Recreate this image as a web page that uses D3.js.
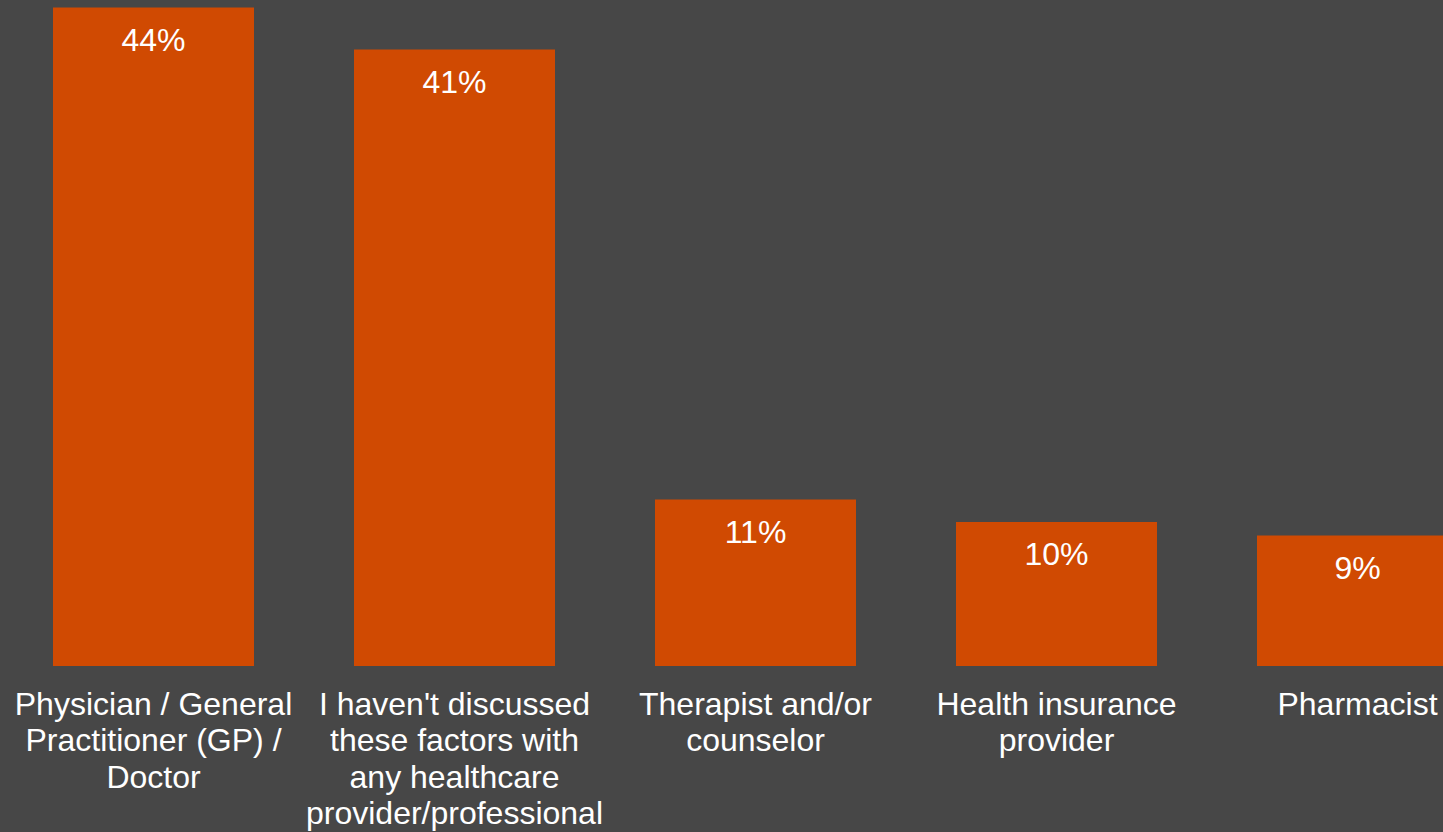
<!DOCTYPE html>
<html>
<head>
<meta charset="utf-8">
<script src="https://cdn.jsdelivr.net/npm/d3@7"></script>
<style>
  html, body { margin: 0; padding: 0; background: #474747; overflow: hidden; }
  svg { display: block; }
</style>
</head>
<body>
<div id="chart"></div>
<script>
// datos
const categories = [
  "Physician / General Practitioner (GP) / Doctor",
  "I haven't discussed these factors with any healthcare provider/professional",
  "Therapist and/or counselor",
  "Health insurance provider",
  "Pharmacist"
];
const categoryLines = [
  ["Physician / General", "Practitioner (GP) /", "Doctor"],
  ["I haven't discussed", "these factors with", "any healthcare", "provider/professional"],
  ["Therapist and/or", "counselor"],
  ["Health insurance", "provider"],
  ["Pharmacist"]
];
const values = [43.9, 41.1, 11.1, 9.6, 8.7];
const valueLabels = ["44%", "41%", "11%", "10%", "9%"];

const WIDTH = 1443;
const HEIGHT = 832;
const BASE_Y = 666;

const svg = d3.select("#chart").append("svg")
  .attr("width", WIDTH)
  .attr("height", HEIGHT);

svg.append("rect")
  .attr("width", WIDTH)
  .attr("height", HEIGHT)
  .attr("fill", "#474747");

const x = d3.scaleBand()
  .domain(categories)
  .range([3, 3 + 5 * 301])
  .paddingInner(100 / 301)
  .paddingOuter(50 / 301);

const y = d3.scaleLinear()
  .domain([0, 1])
  .range([BASE_Y, BASE_Y - 15]);

const bars = svg.selectAll(".bar")
  .data(categories)
  .enter().append("g")
  .attr("class", "bar");

bars.append("rect")
  .attr("x", d => x(d))
  .attr("y", (d, i) => y(values[i]))
  .attr("width", x.bandwidth())
  .attr("height", (d, i) => y(0) - y(values[i]))
  .attr("fill", "#D04A02");

bars.append("text")
  .attr("x", d => x(d) + x.bandwidth() / 2)
  .attr("y", (d, i) => y(values[i]) + 43)
  .attr("text-anchor", "middle")
  .attr("font-family", "Liberation Sans, Arial, sans-serif")
  .attr("font-size", 32)
  .attr("fill", "#ffffff")
  .text((d, i) => valueLabels[i]);

// etiquetas del eje x, varias lineas
const labels = bars.append("text")
  .attr("text-anchor", "middle")
  .attr("font-family", "Liberation Sans, Arial, sans-serif")
  .attr("font-size", 32)
  .attr("fill", "#ffffff");

labels.selectAll("tspan")
  .data((d, i) => categoryLines[i].map(t => ({ t: t, cx: x(d) + x.bandwidth() / 2 })))
  .enter().append("tspan")
  .attr("x", d => d.cx)
  .attr("y", (d, j) => BASE_Y + 49 + j * 36.3)
  .text(d => d.t);
</script>
</body>
</html>
